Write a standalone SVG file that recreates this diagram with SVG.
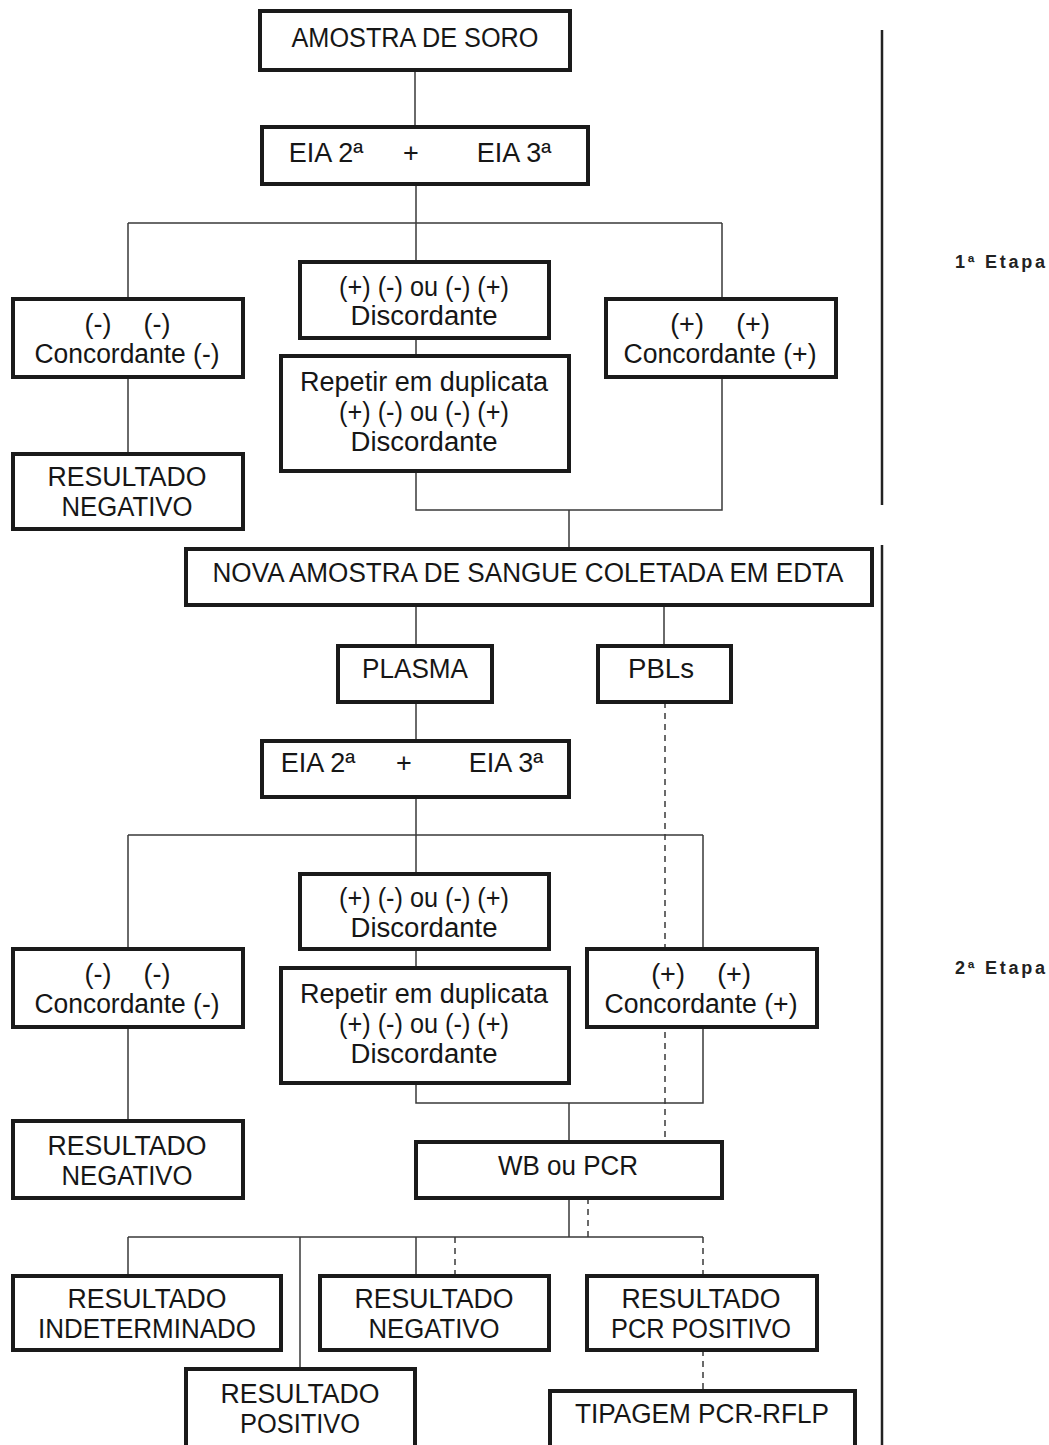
<svg xmlns="http://www.w3.org/2000/svg" width="1049" height="1445" viewBox="0 0 1049 1445">
<style>
.box{fill:#fff;stroke:#1a1a1a;stroke-width:4}
.t{font-family:"Liberation Sans",Arial,sans-serif;font-size:27px;fill:#161616;text-anchor:middle}
.c{stroke:#3a3a3a;stroke-width:1.5;fill:none}
.d{stroke-dasharray:6 5}
.stage{stroke:#222;stroke-width:2.5}
.e{font-family:"Liberation Sans",Arial,sans-serif;font-size:18px;font-weight:bold;fill:#222;text-anchor:middle}
</style>
<rect width="1049" height="1445" fill="#fff"/>
<g id="connectors">
<path class="c" d="M415 70V127M416 184V262M128 223H722M128 223V299M722 223V299M416 338V356M128 377V454M722 377V510H416V471M569 510V549"/>
<path class="c" d="M416 605V646M664 605V646M416 702V741M416 797V874M128 835H703M128 835V949M703 835V949M416 949V968M128 1027V1121M703 1027V1103H416V1083M569 1103V1142"/>
<path class="c" d="M569 1198V1237M128 1237H703M128 1237V1276M300 1237V1369M416 1237V1276"/>
<path class="c d" d="M665 702V1142M588 1198V1237M455 1237V1276M703 1237V1276M703 1350V1391"/>
</g>
<g id="stages">
<line class="stage" x1="882" y1="30" x2="882" y2="505"/>
<line class="stage" x1="882" y1="545" x2="882" y2="1445"/>
<text class="e" x="1000" y="268" textLength="90" lengthAdjust="spacing">1ª Etapa</text>
<text class="e" x="1000" y="974" textLength="90" lengthAdjust="spacing">2ª Etapa</text>
</g>
<g id="n1"><rect class="box" x="260" y="11" width="310" height="59"/><text class="t" x="415" y="47" textLength="247" lengthAdjust="spacingAndGlyphs">AMOSTRA DE SORO</text></g>
<g id="n2"><rect class="box" x="262" y="127" width="326" height="57"/><text class="t" y="162"><tspan x="326">EIA 2ª</tspan><tspan x="411">+</tspan><tspan x="514">EIA 3ª</tspan></text></g>
<g id="n3"><rect class="box" x="300" y="262" width="249" height="76"/><text class="t" x="424" y="296" textLength="170" lengthAdjust="spacingAndGlyphs">(+) (-) ou (-) (+)</text><text class="t" x="424" y="325" textLength="147" lengthAdjust="spacingAndGlyphs">Discordante</text></g>
<g id="n4"><rect class="box" x="281" y="356" width="288" height="115"/><text class="t" x="424" y="391" textLength="248" lengthAdjust="spacingAndGlyphs">Repetir em duplicata</text><text class="t" x="424" y="421" textLength="170" lengthAdjust="spacingAndGlyphs">(+) (-) ou (-) (+)</text><text class="t" x="424" y="451" textLength="147" lengthAdjust="spacingAndGlyphs">Discordante</text></g>
<g id="n5"><rect class="box" x="13" y="299" width="230" height="78"/><text class="t" y="333"><tspan x="98">(-)</tspan><tspan x="157">(-)</tspan></text><text class="t" x="127" y="363" textLength="185" lengthAdjust="spacingAndGlyphs">Concordante (-)</text></g>
<g id="n6"><rect class="box" x="13" y="454" width="230" height="75"/><text class="t" x="127" y="486" textLength="159" lengthAdjust="spacingAndGlyphs">RESULTADO</text><text class="t" x="127" y="516" textLength="131" lengthAdjust="spacingAndGlyphs">NEGATIVO</text></g>
<g id="n7"><rect class="box" x="606" y="299" width="230" height="78"/><text class="t" y="333"><tspan x="687">(+)</tspan><tspan x="753">(+)</tspan></text><text class="t" x="720" y="363" textLength="193" lengthAdjust="spacingAndGlyphs">Concordante (+)</text></g>
<g id="n8"><rect class="box" x="186" y="549" width="686" height="56"/><text class="t" x="528" y="582" textLength="631" lengthAdjust="spacingAndGlyphs">NOVA AMOSTRA DE SANGUE COLETADA EM EDTA</text></g>
<g id="n9"><rect class="box" x="338" y="646" width="154" height="56"/><text class="t" x="415" y="678" textLength="106" lengthAdjust="spacingAndGlyphs">PLASMA</text></g>
<g id="n10"><rect class="box" x="598" y="646" width="133" height="56"/><text class="t" x="661" y="678" textLength="66" lengthAdjust="spacingAndGlyphs">PBLs</text></g>
<g id="n11"><rect class="box" x="262" y="741" width="307" height="56"/><text class="t" y="772"><tspan x="318">EIA 2ª</tspan><tspan x="404">+</tspan><tspan x="506">EIA 3ª</tspan></text></g>
<g id="n12"><rect class="box" x="300" y="874" width="249" height="75"/><text class="t" x="424" y="907" textLength="170" lengthAdjust="spacingAndGlyphs">(+) (-) ou (-) (+)</text><text class="t" x="424" y="937" textLength="147" lengthAdjust="spacingAndGlyphs">Discordante</text></g>
<g id="n13"><rect class="box" x="281" y="968" width="288" height="115"/><text class="t" x="424" y="1003" textLength="248" lengthAdjust="spacingAndGlyphs">Repetir em duplicata</text><text class="t" x="424" y="1033" textLength="170" lengthAdjust="spacingAndGlyphs">(+) (-) ou (-) (+)</text><text class="t" x="424" y="1063" textLength="147" lengthAdjust="spacingAndGlyphs">Discordante</text></g>
<g id="n14"><rect class="box" x="13" y="949" width="230" height="78"/><text class="t" y="983"><tspan x="98">(-)</tspan><tspan x="157">(-)</tspan></text><text class="t" x="127" y="1013" textLength="185" lengthAdjust="spacingAndGlyphs">Concordante (-)</text></g>
<g id="n15"><rect class="box" x="587" y="949" width="230" height="78"/><text class="t" y="983"><tspan x="668">(+)</tspan><tspan x="734">(+)</tspan></text><text class="t" x="701" y="1013" textLength="193" lengthAdjust="spacingAndGlyphs">Concordante (+)</text></g>
<g id="n16"><rect class="box" x="13" y="1121" width="230" height="77"/><text class="t" x="127" y="1155" textLength="159" lengthAdjust="spacingAndGlyphs">RESULTADO</text><text class="t" x="127" y="1185" textLength="131" lengthAdjust="spacingAndGlyphs">NEGATIVO</text></g>
<g id="n17"><rect class="box" x="416" y="1142" width="306" height="56"/><text class="t" x="568" y="1175" textLength="140" lengthAdjust="spacingAndGlyphs">WB ou PCR</text></g>
<g id="n18"><rect class="box" x="13" y="1276" width="268" height="74"/><text class="t" x="147" y="1308" textLength="159" lengthAdjust="spacingAndGlyphs">RESULTADO</text><text class="t" x="147" y="1338" textLength="218" lengthAdjust="spacingAndGlyphs">INDETERMINADO</text></g>
<g id="n19"><rect class="box" x="320" y="1276" width="229" height="74"/><text class="t" x="434" y="1308" textLength="159" lengthAdjust="spacingAndGlyphs">RESULTADO</text><text class="t" x="434" y="1338" textLength="131" lengthAdjust="spacingAndGlyphs">NEGATIVO</text></g>
<g id="n20"><rect class="box" x="587" y="1276" width="230" height="74"/><text class="t" x="701" y="1308" textLength="159" lengthAdjust="spacingAndGlyphs">RESULTADO</text><text class="t" x="701" y="1338" textLength="180" lengthAdjust="spacingAndGlyphs">PCR POSITIVO</text></g>
<g id="n21"><rect class="box" x="186" y="1369" width="229" height="82"/><text class="t" x="300" y="1403" textLength="159" lengthAdjust="spacingAndGlyphs">RESULTADO</text><text class="t" x="300" y="1433" textLength="120" lengthAdjust="spacingAndGlyphs">POSITIVO</text></g>
<g id="n22"><rect class="box" x="550" y="1391" width="305" height="60"/><text class="t" x="702" y="1423" textLength="254" lengthAdjust="spacingAndGlyphs">TIPAGEM PCR-RFLP</text></g>
</svg>
